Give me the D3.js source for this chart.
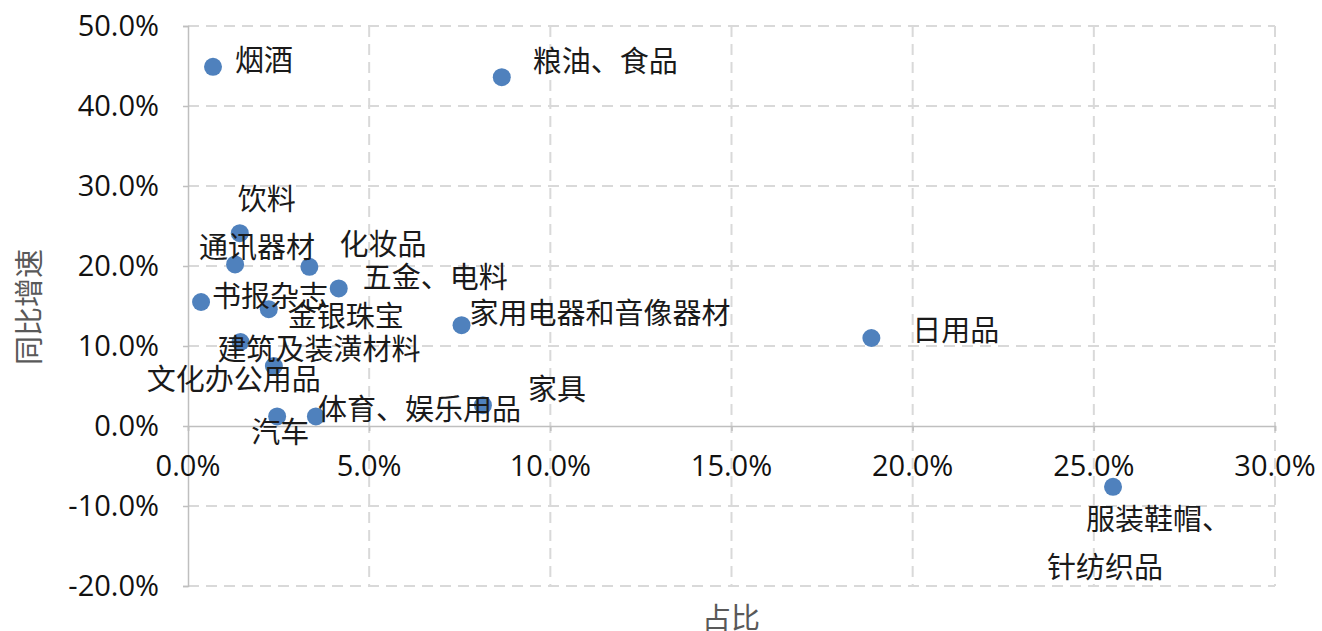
<!DOCTYPE html>
<html><head><meta charset="utf-8">
<script src="https://cdn.jsdelivr.net/npm/d3@7/dist/d3.min.js"></script>
<style>
html,body{margin:0;padding:0;background:#fff;overflow:hidden}
svg{display:block}
</style></head>
<body>
<svg id="chart" width="1322" height="631"></svg>
<script>
// ---- data ----
const categories = ["烟酒","粮油、食品","饮料","通讯器材","化妆品","五金、电料","书报杂志","金银珠宝",
  "家用电器和音像器材","日用品","建筑及装潢材料","文化办公用品","体育、娱乐用品","汽车","家具","服装鞋帽、\n针纺织品"];
const share =  [0.69, 8.66, 1.43, 1.30, 3.35, 4.16, 0.36, 2.23, 7.55, 18.86, 1.45, 2.37, 3.53, 2.46, 8.14, 25.53]; // 占比 (%)
const growth = [44.9, 43.6, 24.1, 20.2, 19.9, 17.2, 15.5, 14.6, 12.6, 11.0, 10.5, 7.5, 1.2, 1.2, 2.6, -7.6];   // 同比增速 (%)
const xTicks = [0, 5, 10, 15, 20, 25, 30];
const yTicks = [-20, -10, 0, 10, 20, 30, 40, 50];
const xTitle = "占比";
const yTitle = "同比增速";

// ---- layout (label placement relative to each point, px) ----
const labelOffsets = [[22,-6],[31,-15],[-2,-33],[-36,-17],[30,-22],[24,-11],[11,-5],[19,8],
  [8,-11],[41,-7],[-23,8],[-127,14],[2,-7],[-26,16],[45,-15],[-27,33]];
const lineShifts = [0, -39]; // extra x shift per line for multi-line labels
const lineGap = 48;

const svg = d3.select("#chart");
const x = d3.scaleLinear().domain([0, 30]).range([188, 1275]);
const y = d3.scaleLinear().domain([-20, 50]).range([586, 26]);
const fmt = d => d.toFixed(1) + "%";
const tickFont = "'Open Sans', 'Noto Sans', sans-serif";
const cjkFont = "'Noto Sans CJK SC', 'Noto Sans', sans-serif";
const fs = 29;

// gridlines
const grid = svg.append("g");
grid.selectAll("line.h").data(yTicks.filter(d => d !== 0)).join("line")
  .attr("x1", x(0)).attr("x2", x(30)).attr("y1", d => y(d)).attr("y2", d => y(d))
  .attr("stroke", "#d9d9d9").attr("stroke-width", 2).attr("stroke-dasharray", "11,7");
grid.selectAll("line.v").data(xTicks.filter(d => d !== 0)).join("line")
  .attr("y1", y(50)).attr("y2", y(-20)).attr("x1", d => x(d)).attr("x2", d => x(d))
  .attr("stroke", "#d9d9d9").attr("stroke-width", 2).attr("stroke-dasharray", "11,7");

// axes (zero lines) with ticks
const yAxis = d3.axisLeft(y).tickValues(yTicks).tickSize(5).tickFormat("");
svg.append("g").attr("transform", `translate(${x(0)},0)`).call(yAxis)
  .call(g => g.selectAll("line,path").attr("stroke", "#bfbfbf").attr("stroke-width", 1.5));
const xAxis = d3.axisBottom(x).tickValues(xTicks).tickSize(5).tickFormat("");
svg.append("g").attr("transform", `translate(0,${y(0)})`).call(xAxis)
  .call(g => g.selectAll("line,path").attr("stroke", "#bfbfbf").attr("stroke-width", 1.5));

// tick labels
svg.append("g").selectAll("text").data(yTicks).join("text")
  .attr("x", x(0) - 29).attr("y", d => y(d)).attr("dy", "0.35em")
  .attr("text-anchor", "end").attr("font-family", tickFont).attr("font-size", fs)
  .attr("fill", "#111").text(fmt);
svg.append("g").selectAll("text").data(xTicks).join("text")
  .attr("x", d => x(d)).attr("y", y(0) + 40).attr("dy", "0.35em")
  .attr("text-anchor", "middle").attr("font-family", tickFont).attr("font-size", fs)
  .attr("fill", "#111").text(fmt);

// axis titles
svg.append("text").attr("x", 731).attr("y", 619).attr("dy", "0.35em")
  .attr("text-anchor", "middle").attr("font-family", cjkFont).attr("font-size", fs)
  .attr("fill", "#595959").text(xTitle);
svg.append("text").attr("transform", "translate(30,307) rotate(-90)").attr("dy", "0.35em")
  .attr("text-anchor", "middle").attr("font-family", cjkFont).attr("font-size", fs)
  .attr("fill", "#595959").text(yTitle);

// points
const pts = categories.map((c, i) => ({name: c, sx: share[i], gy: growth[i], off: labelOffsets[i]}));
svg.append("g").selectAll("circle").data(pts).join("circle")
  .attr("cx", d => x(d.sx)).attr("cy", d => y(d.gy)).attr("r", 9)
  .attr("fill", "#4f81bd");

// labels
const lab = svg.append("g").selectAll("text").data(pts).join("text")
  .attr("font-family", cjkFont).attr("font-size", fs).attr("fill", "#1a1a1a")
  .attr("text-anchor", "start");
lab.each(function(d) {
  const lines = d.name.split("\n");
  const t = d3.select(this);
  lines.forEach((ln, k) => {
    t.append("tspan")
      .attr("x", x(d.sx) + d.off[0] + lineShifts[k])
      .attr("y", y(d.gy) + d.off[1] + k * lineGap)
      .attr("dy", "0.35em").text(ln);
  });
});
</script>
</body></html>
